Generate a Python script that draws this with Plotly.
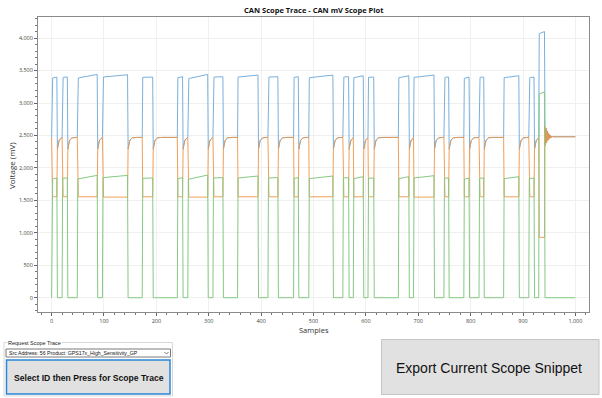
import numpy as np
import plotly.graph_objects as go

# ---------------- data ----------------
DOM_START = [1, 21, 50, 98, 174, 241, 261, 309, 356, 414, 463, 492, 557, 577,
             605, 663, 692, 750, 788, 817, 864, 912, 931]
DOM_END = [11, 31, 88, 146, 194, 251, 299, 328, 395, 433, 472, 538, 568, 596,
           616, 683, 731, 759, 798, 826, 893, 922, 942]
CANH_DOM_START = [3385, 3395, 3385, 3400, 3395, 3390, 3375, 3400, 3400, 3400, 3395, 3390,
                  3400, 3390, 3395, 3390, 3395, 3395, 3380, 3395, 3390, 3390, 4070]
CANH_DOM_END = [3400, 3400, 3440, 3435, 3400, 3405, 3440, 3405, 3430, 3405, 3405, 3430,
                3405, 3420, 3400, 3420, 3430, 3400, 3400, 3400, 3420, 3400, 4100]
CANL_DOM = [1555, 1555, 1555, 1550, 1555, 1555, 1550, 1555, 1555, 1555, 1555, 1555,
            1555, 1555, 1555, 1555, 1550, 1555, 1555, 1555, 1555, 1555, 930]
RECOVERY = [2290, 2350, 2390, 2415, 2432, 2444, 2452, 2458, 2462, 2465, 2467, 2468, 2469, 2470]
REC_LEVEL = 2470
START_LEVEL = 2460
RING = [2640, 2350, 2610, 2390, 2570, 2420, 2540, 2440, 2515, 2455, 2500, 2465,
        2492, 2472, 2487, 2476, 2484, 2478]
FINAL_LEVEL = 2480
N_SAMPLES = 1001

X_TICKS = [0, 100, 200, 300, 400, 500, 600, 700, 800, 900, 1000]
Y_TICKS = [0, 500, 1000, 1500, 2000, 2500, 3000, 3500, 4000]

# ---------------- build traces ----------------
samples = np.arange(N_SAMPLES)
canh = np.zeros(N_SAMPLES)
canl = np.zeros(N_SAMPLES)
for s in samples:
    idx = None
    for i, (a, b) in enumerate(zip(DOM_START, DOM_END)):
        if a <= s < b:
            idx = i
            break
    if idx is not None:
        a, b = DOM_START[idx], DOM_END[idx]
        frac = (s - a) / max(1, (b - a - 1))
        canh[s] = CANH_DOM_START[idx] + (CANH_DOM_END[idx] - CANH_DOM_START[idx]) * frac
        canl[s] = CANL_DOM[idx]
    else:
        ends = [b for b in DOM_END if b <= s]
        if not ends:
            v = START_LEVEL
        else:
            e = max(ends)
            k = s - e
            if e == DOM_END[-1]:
                v = RING[k] if k < len(RING) else FINAL_LEVEL
            else:
                v = RECOVERY[k] if k < len(RECOVERY) else REC_LEVEL
        canh[s] = v
        canl[s] = v
diff = canh - canl

W, H = 602, 398
L, R, T, B = 38, 589, 17, 312


def px(x):
    return (x - L) / (R - L)


def py(y):
    return (B - y) / (B - T)


fig = go.Figure()
fig.add_trace(go.Scatter(x=samples, y=canh, mode="lines",
                         line=dict(color="#7ab0dc", width=1), hoverinfo="skip"))
fig.add_trace(go.Scatter(x=samples, y=canl, mode="lines", opacity=0.9,
                         line=dict(color="#ee9648", width=1), hoverinfo="skip"))
fig.add_trace(go.Scatter(x=samples, y=diff, mode="lines",
                         line=dict(color="#86c982", width=1), hoverinfo="skip"))

axis_font = dict(family="Open Sans, Noto Sans, sans-serif", size=5.5, color="#444")
fig.update_layout(
    width=W, height=H, showlegend=False,
    margin=dict(l=L, r=W - R, t=T, b=H - B, pad=0),
    paper_bgcolor="white", plot_bgcolor="white",
    separators=".,",
    xaxis=dict(range=[-26, 1026], tickvals=X_TICKS, tickformat=",", showgrid=True,
               gridcolor="#f0f0f0", gridwidth=1, zeroline=False, automargin=False,
               showline=True, linecolor="#8a8a8a", linewidth=1, mirror=True,
               ticks="outside", ticklen=3, tickcolor="#666", tickfont=axis_font,
               minor=dict(dtick=20, tick0=0, ticks="outside", ticklen=2, tickcolor="#777",
                          showgrid=False)),
    yaxis=dict(range=[-220, 4325], tickvals=Y_TICKS, tickformat=",", showgrid=True,
               gridcolor="#f0f0f0", gridwidth=1, zeroline=False, automargin=False,
               showline=True, linecolor="#8a8a8a", linewidth=1, mirror=True,
               ticks="outside", ticklen=3, tickcolor="#666", tickfont=axis_font,
               minor=dict(dtick=100, tick0=0, ticks="outside", ticklen=2, tickcolor="#777",
                          showgrid=False)),
)

chart_font = "Open Sans, Noto Sans, sans-serif"
ui_font = "Liberation Sans, Arial"
ann = []


def label(text, x, y, size, family, color="#111", xanchor="center", angle=0, bg=None):
    d = dict(text=text, x=px(x), y=py(y), xref="paper", yref="paper", showarrow=False,
             xanchor=xanchor, yanchor="middle", textangle=angle,
             font=dict(family=family, size=size, color=color))
    if bg:
        d["bgcolor"] = bg
        d["borderpad"] = 0
    ann.append(d)


label("<b>CAN Scope Trace - CAN mV Scope Plot</b>", 313.5, 10, 7.5, chart_font)
label("Samples", 313.5, 330, 7.5, chart_font, color="#333")
label("Voltage (mV)", 11, 166, 8, chart_font, color="#333", angle=-90)

shapes = []
# group box
shapes.append(dict(type="rect", xref="paper", yref="paper", x0=px(4), x1=px(172.5),
                   y0=py(342.5), y1=py(396), line=dict(color="#d8d8d8", width=1)))
label("Request Scope Trace", 7, 342.5, 5.5, ui_font, color="#222", xanchor="left", bg="white")
# combo box
shapes.append(dict(type="rect", xref="paper", yref="paper", x0=px(6), x1=px(170.5),
                   y0=py(349), y1=py(357), fillcolor="white", line=dict(color="#7a7a7a", width=1)))
label("Src Address: 56 Product: GPS17x_High_Sensitivity_GP", 7, 353, 5.2, ui_font, xanchor="left")
shapes.append(dict(type="path", xref="paper", yref="paper",
                   path=f"M {px(164.5)},{py(352)} L {px(166.5)},{py(354)} L {px(168.5)},{py(352)}",
                   line=dict(color="#555", width=0.8)))
# left button
shapes.append(dict(type="rect", xref="paper", yref="paper", x0=px(6.5), x1=px(170),
                   y0=py(360), y1=py(394), fillcolor="#e1e1e1", line=dict(color="#2b87d8", width=1.5)))
label("<b>Select ID then Press for Scope Trace</b>", 88.5, 377.5, 8.6, ui_font)
# right button
shapes.append(dict(type="rect", xref="paper", yref="paper", x0=px(381.5), x1=px(599),
                   y0=py(339.5), y1=py(394.5), fillcolor="#e1e1e1", line=dict(color="#c4c4c4", width=1)))
label("Export Current Scope Snippet", 488.5, 368, 14, ui_font)

fig.update_layout(annotations=ann, shapes=shapes)
fig.write_html("out.html", config={"displayModeBar": False},
               post_script="document.body.style.margin='0';")
